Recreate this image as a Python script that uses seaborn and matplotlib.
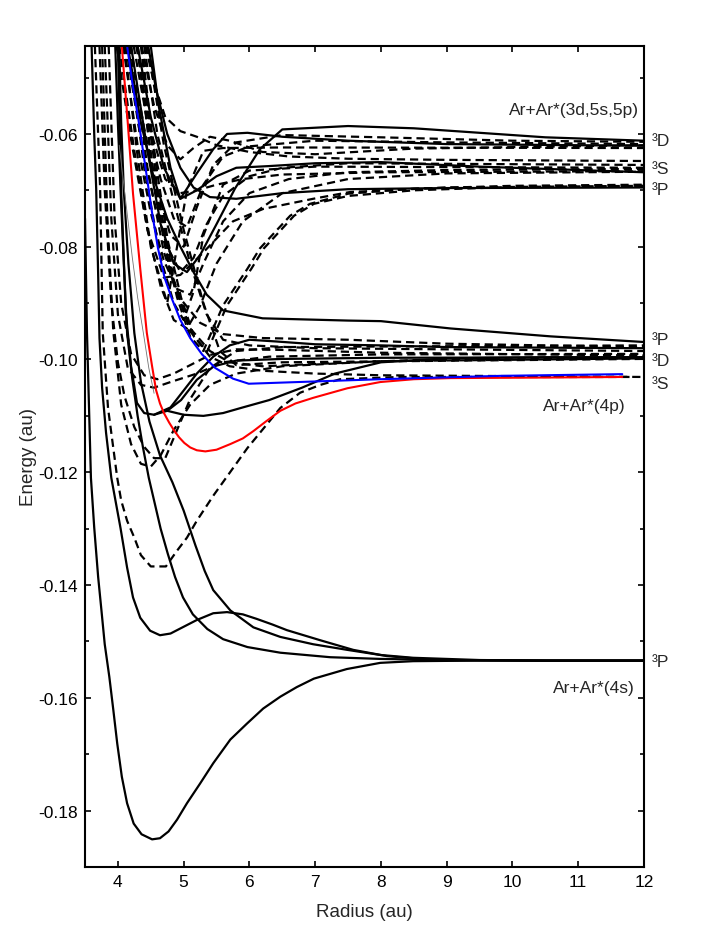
import matplotlib
matplotlib.use("Agg")
import matplotlib.pyplot as plt
import seaborn as sns

# --- axes / tick data ---
x_ticks = [4, 5, 6, 7, 8, 9, 10, 11, 12]
y_ticks = [-0.18, -0.16, -0.14, -0.12, -0.10, -0.08, -0.06]
y_tick_labels = ["-0.18", "-0.16", "-0.14", "-0.12", "-0.10", "-0.08", "-0.06"]
y_minor = [-0.19, -0.17, -0.15, -0.13, -0.11, -0.09, -0.07, -0.05]

# --- Ar+Ar*(4s) manifold (solid) ---
s4a_x = [3.50, 3.53, 3.59, 3.64, 3.70, 3.75, 3.80, 3.87, 3.93, 3.99, 4.06, 4.14, 4.24, 4.36, 4.52, 4.64, 4.77, 4.90, 5.05, 5.25, 5.45, 5.71, 5.96, 6.21, 6.47, 6.72, 6.98, 7.48, 7.99, 8.49, 9.50, 10.5, 12.0]
s4a_y = [-0.075, -0.0953, -0.1210, -0.1298, -0.1386, -0.1445, -0.1505, -0.1563, -0.1621, -0.1681, -0.1740, -0.1787, -0.1823, -0.1842, -0.1851, -0.1849, -0.1837, -0.1816, -0.1787, -0.1752, -0.1716, -0.1674, -0.1646, -0.1619, -0.1598, -0.1581, -0.1566, -0.1549, -0.1538, -0.1535, -0.1534, -0.1534, -0.1534]
s4b_x = [3.60, 3.64, 3.67, 3.70, 3.72, 3.76, 3.82, 3.90, 4.04, 4.14, 4.23, 4.34, 4.49, 4.64, 4.80, 4.95, 5.20, 5.45, 5.66, 5.90, 6.11, 6.35, 6.57, 7.08, 7.58, 8.09, 8.60, 9.0, 10.5, 12.0]
s4b_y = [-0.0444, -0.0600, -0.0697, -0.0850, -0.0962, -0.1050, -0.1130, -0.1210, -0.1299, -0.1369, -0.1422, -0.1458, -0.1481, -0.1489, -0.1486, -0.1477, -0.1462, -0.1450, -0.1448, -0.1452, -0.1460, -0.1470, -0.1480, -0.1498, -0.1515, -0.1526, -0.1531, -0.1533, -0.1534, -0.1534]
s4c_x = [3.96, 4.00, 4.04, 4.09, 4.14, 4.22, 4.30, 4.38, 4.47, 4.57, 4.65, 4.76, 4.87, 4.99, 5.14, 5.36, 5.60, 5.97, 6.47, 7.23, 7.99, 9.0, 10.5, 12.0]
s4c_y = [-0.0444, -0.0580, -0.0697, -0.0830, -0.0953, -0.1035, -0.1100, -0.1155, -0.1210, -0.1260, -0.1300, -0.1345, -0.1386, -0.1422, -0.1452, -0.1478, -0.1496, -0.1510, -0.1520, -0.1528, -0.1531, -0.1533, -0.1534, -0.1534]
s4d_x = [4.02, 4.05, 4.09, 4.16, 4.25, 4.35, 4.48, 4.64, 4.83, 5.00, 5.18, 5.32, 5.45, 5.71, 6.06, 6.47, 6.97, 7.49, 7.99, 8.49, 9.5, 10.5, 12.0]
s4d_y = [-0.0444, -0.0580, -0.0700, -0.0830, -0.0953, -0.1040, -0.1110, -0.1170, -0.1218, -0.1268, -0.1330, -0.1375, -0.1409, -0.1445, -0.1475, -0.1492, -0.1505, -0.1515, -0.1524, -0.1529, -0.1533, -0.1534, -0.1534]

# --- Ar+Ar*(4p) manifold ---
red_x = [4.06, 4.15, 4.23, 4.34, 4.44, 4.52, 4.58, 4.64, 4.70, 4.78, 4.85, 4.93, 5.01, 5.10, 5.20, 5.33, 5.50, 5.71, 5.90, 6.06, 6.25, 6.47, 6.70, 6.97, 7.49, 7.99, 8.50, 9.06, 10.5, 11.67]
red_y = [-0.0444, -0.0580, -0.0706, -0.0839, -0.0953, -0.1012, -0.1054, -0.1078, -0.1095, -0.1112, -0.1125, -0.1138, -0.1148, -0.1156, -0.1161, -0.1163, -0.1160, -0.1150, -0.1140, -0.1127, -0.1110, -0.1091, -0.1078, -0.1068, -0.1051, -0.1040, -0.1035, -0.1033, -0.1032, -0.1031]
blue_x = [4.14, 4.22, 4.31, 4.42, 4.52, 4.61, 4.71, 4.82, 4.95, 5.10, 5.28, 5.48, 5.75, 5.99, 7.99, 9.82, 11.67]
blue_y = [-0.0444, -0.0510, -0.0573, -0.0660, -0.0740, -0.0803, -0.0855, -0.0892, -0.0930, -0.0962, -0.0991, -0.1015, -0.1034, -0.1043, -0.1035, -0.1029, -0.1026]
deep_x = [3.65, 3.73, 3.77, 3.85, 3.99, 4.05, 4.14, 4.25, 4.35, 4.50, 4.73, 4.90, 5.05, 5.20, 5.46, 5.97, 6.47, 6.77, 7.08, 7.38, 8.29, 11.80]
deep_y = [-0.0444, -0.0697, -0.0953, -0.1086, -0.1210, -0.1250, -0.1286, -0.1316, -0.1347, -0.1367, -0.1367, -0.1339, -0.1316, -0.1286, -0.1240, -0.1157, -0.1086, -0.1059, -0.1045, -0.1035, -0.1031, -0.1031]
m1_x = [4.15, 4.35, 4.55, 4.75, 4.95, 5.15, 5.35, 5.60, 6.20, 7.50, 8.00, 9.06, 10.58, 12.0]
m1_y = [-0.0444, -0.0580, -0.0680, -0.0750, -0.0800, -0.0845, -0.0885, -0.0913, -0.0927, -0.0931, -0.0932, -0.0945, -0.0959, -0.0969]
m2_x = [4.00, 4.05, 4.12, 4.20, 4.29, 4.40, 4.55, 4.75, 4.96, 5.20, 5.46, 5.80, 6.50, 8.00, 12.0]
m2_y = [-0.0444, -0.0700, -0.0915, -0.1012, -0.1077, -0.1095, -0.1098, -0.1091, -0.1072, -0.1036, -0.1012, -0.1002, -0.0999, -0.0997, -0.0996]
m3_x = [4.55, 4.80, 5.00, 5.20, 5.45, 5.70, 6.00, 6.40, 7.00, 8.00, 9.00, 12.0]
m3_y = [-0.1098, -0.1085, -0.1055, -0.1025, -0.0995, -0.0975, -0.0965, -0.0968, -0.0973, -0.0975, -0.0978, -0.0980]
m4_x = [4.75, 5.00, 5.30, 5.60, 5.90, 6.30, 6.80, 7.30, 8.00, 9.00, 10.5, 12.0]
m4_y = [-0.1091, -0.1098, -0.1100, -0.1095, -0.1085, -0.1072, -0.1050, -0.1025, -0.1005, -0.0998, -0.0996, -0.0996]
d1_x = [3.72, 3.80, 3.90, 4.00, 4.10, 4.25, 4.40, 4.55, 4.72, 4.90, 5.10, 5.40, 5.80, 6.50, 8.00, 10.0, 12.0]
d1_y = [-0.0444, -0.0700, -0.0900, -0.1005, -0.1065, -0.1120, -0.1155, -0.1175, -0.1175, -0.1125, -0.1070, -0.1015, -0.0985, -0.0978, -0.0977, -0.0976, -0.0975]
d2_x = [3.80, 3.90, 4.00, 4.15, 4.35, 4.55, 4.80, 5.20, 5.60, 6.30, 8.00, 12.0]
d2_y = [-0.0444, -0.0750, -0.0920, -0.1015, -0.1045, -0.1050, -0.1040, -0.1025, -0.1005, -0.0995, -0.0991, -0.0990]
d3_x = [4.20, 4.45, 4.70, 4.95, 5.25, 5.60, 6.20, 7.50, 9.00, 12.0]
d3_y = [-0.0444, -0.0660, -0.0810, -0.0892, -0.0935, -0.0955, -0.0962, -0.0965, -0.0972, -0.0978]
d4_x = [4.30, 4.55, 4.80, 5.10, 5.40, 5.70, 6.20, 7.00, 8.50, 12.0]
d4_y = [-0.0444, -0.0680, -0.0850, -0.0945, -0.0985, -0.1005, -0.1012, -0.1008, -0.1001, -0.0998]
d5_x = [3.86, 3.95, 4.05, 4.20, 4.40, 4.60, 4.85, 5.10, 5.40, 5.80, 6.50, 8.00, 12.0]
d5_y = [-0.0444, -0.0750, -0.0900, -0.0990, -0.1028, -0.1035, -0.1025, -0.1010, -0.0992, -0.0982, -0.0983, -0.0988, -0.0993]
d6_x = [3.76, 3.84, 3.93, 4.05, 4.20, 4.35, 4.50, 4.65, 4.85, 5.10, 5.40, 5.80, 6.50, 8.00, 12.0]
d6_y = [-0.0444, -0.0750, -0.0950, -0.1080, -0.1150, -0.1185, -0.1190, -0.1170, -0.1125, -0.1080, -0.1045, -0.1025, -0.1012, -0.1003, -0.0998]
d7_x = [4.35, 4.60, 4.85, 5.10, 5.40, 5.70, 6.20, 7.00, 8.00, 12.0]
d7_y = [-0.0444, -0.0700, -0.0860, -0.0950, -0.0995, -0.1012, -0.1020, -0.1025, -0.1028, -0.1031]
d8_x = [4.40, 4.60, 4.85, 5.10, 5.35, 5.60, 6.00, 7.00, 12.0]
d8_y = [-0.0444, -0.0600, -0.0720, -0.0830, -0.0920, -0.0965, -0.0975, -0.0980, -0.0985]
d9_x = [4.45, 4.70, 5.00, 5.30, 5.55, 5.80, 6.50, 12.0]
d9_y = [-0.0444, -0.0620, -0.0770, -0.0900, -0.0985, -0.1010, -0.1005, -0.0999]
thin_x = [4.02, 4.12, 4.22, 4.30, 4.39, 4.47, 4.55]
thin_y = [-0.062, -0.072, -0.082, -0.089, -0.0955, -0.1015, -0.106]

# --- Ar+Ar*(3d,5s,5p) manifold ---
u1_x = [4.20, 4.45, 4.65, 4.85, 5.05, 5.25, 5.50, 5.78, 6.16, 6.50, 7.50, 8.50, 9.50, 10.5, 12.0]
u1_y = [-0.0444, -0.0630, -0.0760, -0.0830, -0.0845, -0.0815, -0.0760, -0.0697, -0.0627, -0.0592, -0.0586, -0.0590, -0.0598, -0.0606, -0.0612]
u2_x = [4.18, 4.40, 4.60, 4.80, 5.00, 5.20, 5.45, 5.80, 6.50, 8.00, 10.0, 12.0]
u2_y = [-0.0444, -0.0590, -0.0700, -0.0780, -0.0800, -0.0730, -0.0655, -0.0615, -0.0602, -0.0606, -0.0612, -0.0614]
u3_x = [4.24, 4.45, 4.65, 4.85, 5.05, 5.30, 5.60, 6.00, 7.00, 9.00, 12.0]
u3_y = [-0.0444, -0.0580, -0.0680, -0.0750, -0.0765, -0.0690, -0.0640, -0.0622, -0.0612, -0.0615, -0.0618]
u4_x = [4.30, 4.50, 4.70, 4.95, 5.20, 5.50, 5.80, 6.30, 7.00, 8.00, 9.50, 12.0]
u4_y = [-0.0444, -0.0570, -0.0660, -0.0715, -0.0700, -0.0675, -0.0660, -0.0657, -0.0652, -0.0650, -0.0658, -0.0668]
u5_x = [4.36, 4.55, 4.75, 4.95, 5.15, 5.40, 5.70, 6.20, 7.00, 8.50, 12.0]
u5_y = [-0.0444, -0.0550, -0.0620, -0.0645, -0.0625, -0.0605, -0.0612, -0.0632, -0.0636, -0.0626, -0.0620]
u6_x = [4.42, 4.55, 4.72, 4.95, 5.20, 5.50, 6.00, 6.60, 7.50, 9.00, 12.0]
u6_y = [-0.0444, -0.0510, -0.0570, -0.0595, -0.0605, -0.0620, -0.0632, -0.0640, -0.0644, -0.0646, -0.0648]
u7_x = [4.12, 4.35, 4.55, 4.75, 4.95, 5.15, 5.35, 5.60, 6.00, 6.50, 7.50, 9.00, 12.0]
u7_y = [-0.0444, -0.0610, -0.0720, -0.0800, -0.0845, -0.0820, -0.0760, -0.0710, -0.0675, -0.0660, -0.0652, -0.0653, -0.0655]
u8_x = [4.08, 4.30, 4.50, 4.70, 4.90, 5.10, 5.30, 5.60, 6.00, 6.60, 7.50, 9.00, 12.0]
u8_y = [-0.0444, -0.0620, -0.0740, -0.0825, -0.0875, -0.0885, -0.0830, -0.0755, -0.0705, -0.0680, -0.0668, -0.0664, -0.0662]
u9_x = [4.46, 4.58, 4.75, 4.95, 5.15, 5.40, 5.80, 6.50, 7.50, 9.00, 12.0]
u9_y = [-0.0444, -0.0520, -0.0600, -0.0660, -0.0695, -0.0712, -0.0715, -0.0705, -0.0698, -0.0696, -0.0695]
u10_x = [4.02, 4.25, 4.45, 4.65, 4.85, 5.05, 5.25, 5.50, 5.90, 6.50, 7.50, 9.00, 12.0]
u10_y = [-0.0444, -0.0630, -0.0770, -0.0870, -0.0930, -0.0945, -0.0905, -0.0830, -0.0755, -0.0705, -0.0680, -0.0670, -0.0667]
u11a_x = [4.30, 4.50, 4.70, 4.90, 5.10, 5.30, 5.60, 5.97, 6.16, 6.62, 6.92, 7.50, 8.50, 10.0, 12.0]
u11a_y = [-0.0444, -0.0640, -0.0790, -0.0890, -0.0960, -0.0985, -0.0904, -0.0839, -0.0803, -0.0745, -0.0724, -0.0706, -0.0697, -0.0692, -0.0690]
u11b_x = [4.36, 4.56, 4.76, 4.96, 5.16, 5.36, 5.66, 6.03, 6.22, 6.68, 6.98, 7.50, 8.50, 10.0, 12.0]
u11b_y = [-0.0444, -0.0640, -0.0790, -0.0890, -0.0960, -0.0985, -0.0904, -0.0839, -0.0803, -0.0745, -0.0724, -0.0710, -0.0700, -0.0694, -0.0692]
u12_x = [3.98, 4.20, 4.45, 4.70, 4.95, 5.25, 5.75, 6.21, 6.97, 7.53, 9.00, 12.0]
u12_y = [-0.0444, -0.0610, -0.0770, -0.0855, -0.0850, -0.0816, -0.0755, -0.0733, -0.0715, -0.0703, -0.0695, -0.0692]
u13_x = [4.50, 4.62, 4.80, 4.95, 5.20, 5.45, 5.66, 5.97, 6.50, 7.50, 9.00, 12.0]
u13_y = [-0.0444, -0.0550, -0.0660, -0.0715, -0.0670, -0.0627, -0.0600, -0.0598, -0.0605, -0.0612, -0.0618, -0.0621]
u14_x = [4.28, 4.50, 4.72, 4.95, 5.20, 5.50, 5.90, 6.50, 8.00, 12.0]
u14_y = [-0.0444, -0.0595, -0.0680, -0.0705, -0.0700, -0.0690, -0.0680, -0.0672, -0.0668, -0.0666]
u15_x = [4.10, 4.30, 4.50, 4.75, 4.90, 5.05, 5.30, 5.60, 6.50, 12.0]
u15_y = [-0.0444, -0.0640, -0.0800, -0.0900, -0.0800, -0.0700, -0.0630, -0.0625, -0.0624, -0.0625]
u16_x = [4.16, 4.40, 4.65, 4.85, 5.00, 5.15, 5.30, 5.60, 6.00, 7.00, 12.0]
u16_y = [-0.0444, -0.0660, -0.0820, -0.0900, -0.0930, -0.0880, -0.0780, -0.0690, -0.0665, -0.0658, -0.0660]

# --- text labels at the right ---
state_labels = ["³D", "³S", "³P", "³P", "³D", "³S", "³P"]
state_y = [-0.0612, -0.0662, -0.0699, -0.0964, -0.1001, -0.1043, -0.1535]
group_labels = ["Ar+Ar*(3d,5s,5p)", "Ar+Ar*(4p)", "Ar+Ar*(4s)"]
group_x = [11.92, 11.72, 11.86]
group_y = [-0.0556, -0.1082, -0.1582]

SOLID = "-"
DASH = (0, (3.7, 2.2))

curves = [
    (d1_x, d1_y, DASH), (d2_x, d2_y, DASH), (d3_x, d3_y, DASH), (d4_x, d4_y, DASH),
    (d5_x, d5_y, DASH), (d6_x, d6_y, DASH), (d7_x, d7_y, DASH), (d8_x, d8_y, DASH),
    (d9_x, d9_y, DASH),
    (u2_x, u2_y, DASH), (u3_x, u3_y, DASH), (u5_x, u5_y, DASH), (u6_x, u6_y, DASH),
    (u7_x, u7_y, DASH), (u8_x, u8_y, DASH), (u10_x, u10_y, DASH), (u11a_x, u11a_y, DASH),
    (u11b_x, u11b_y, DASH), (u12_x, u12_y, DASH), (u14_x, u14_y, DASH),
    (u15_x, u15_y, DASH), (u16_x, u16_y, DASH),
    (deep_x, deep_y, DASH),
    (u1_x, u1_y, SOLID), (u4_x, u4_y, SOLID), (u9_x, u9_y, SOLID), (u13_x, u13_y, SOLID),
    (m1_x, m1_y, SOLID), (m2_x, m2_y, SOLID), (m3_x, m3_y, SOLID), (m4_x, m4_y, SOLID),
    (s4a_x, s4a_y, SOLID), (s4b_x, s4b_y, SOLID), (s4c_x, s4c_y, SOLID), (s4d_x, s4d_y, SOLID),
]

sns.set_style("ticks")
plt.rcParams['font.family'] = ['Liberation Sans', 'DejaVu Sans']
plt.rcParams['axes.unicode_minus'] = False

fig = plt.figure(figsize=(7.09, 9.45), dpi=100)
ax = fig.add_axes([0.1199, 0.0815, 0.7884, 0.8688])

for cx, cy, ls in curves:
    sns.lineplot(x=cx, y=cy, ax=ax, color="black", lw=1.6, linestyle=ls,
                 sort=False, estimator=None, legend=False)

sns.lineplot(x=thin_x, y=thin_y, ax=ax, color="0.45", lw=0.6, sort=False, estimator=None)
sns.lineplot(x=red_x, y=red_y, ax=ax, color="red", lw=1.5, sort=False, estimator=None)
sns.lineplot(x=blue_x, y=blue_y, ax=ax, color="blue", lw=1.5, sort=False, estimator=None)

ax.set_xlim(3.5, 12)
ax.set_ylim(-0.19, -0.0444)
ax.set_xticks(x_ticks)
ax.set_xticklabels([str(t) for t in x_ticks])
ax.set_yticks(y_ticks)
ax.set_yticklabels(y_tick_labels)
ax.set_yticks(y_minor, minor=True)
ax.tick_params(which="both", direction="in", top=True, right=True, width=1.2,
               labelsize=12.5, pad=5, colors="black")
ax.tick_params(which="major", length=4)
ax.tick_params(which="minor", length=3)
for sp in ax.spines.values():
    sp.set_linewidth(1.5)
    sp.set_color("black")

ax.set_xlabel("Radius (au)", fontsize=13.5, labelpad=10)
ax.set_ylabel("Energy (au)", fontsize=13.5, labelpad=1)

for lab, yy in zip(state_labels, state_y):
    ax.text(12.12, yy, lab, ha="left", va="center", fontsize=12.5, clip_on=False)
for lab, xx, yy in zip(group_labels, group_x, group_y):
    ax.text(xx, yy, lab, ha="right", va="center", fontsize=12.5, clip_on=False)

fig.savefig("out.png", dpi=100)
